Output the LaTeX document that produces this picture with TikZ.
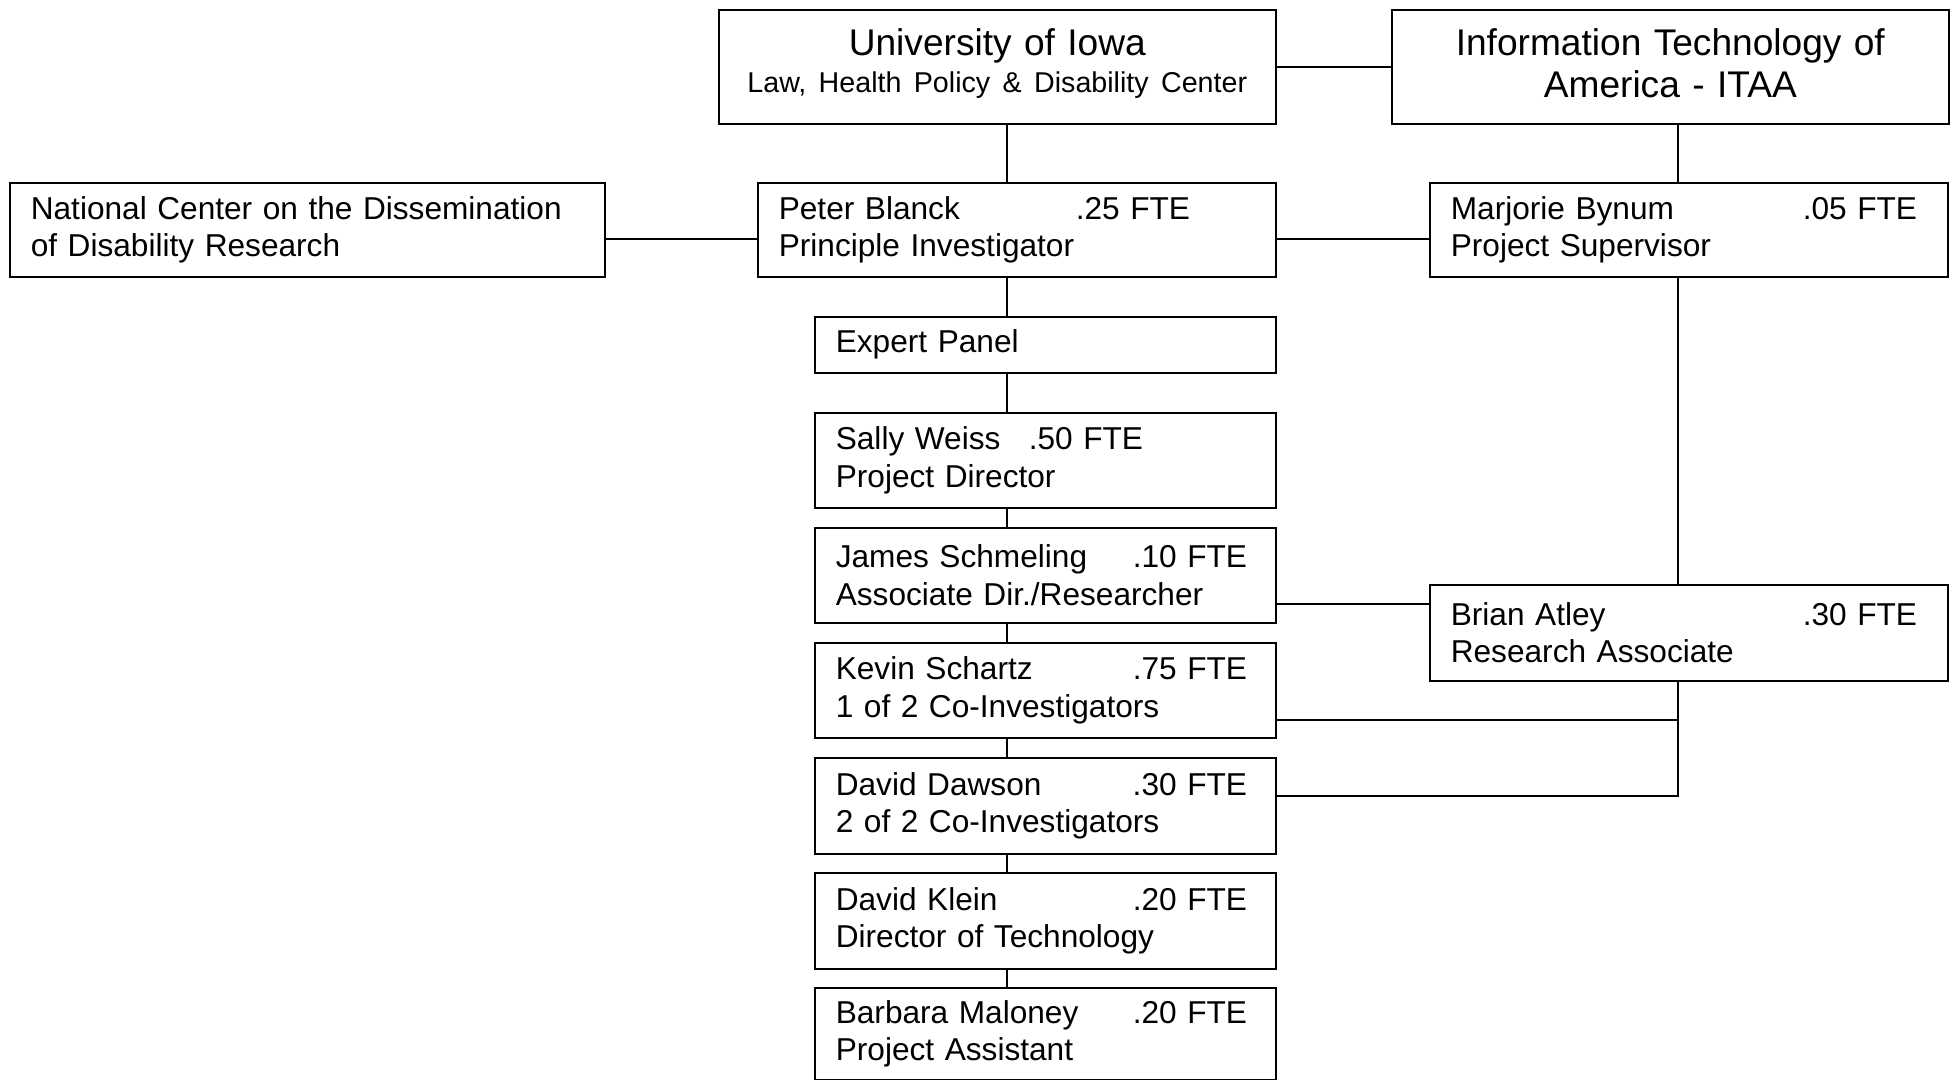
\documentclass[tikz,border=0pt]{standalone}
\usepackage{fontspec}
\setmainfont{Liberation Sans}
\usepackage{tikz}
\usetikzlibrary{positioning, calc}

\newcommand{\bodyfont}{\fontsize{9.0}{10.6}\selectfont}
\newcommand{\headfont}{\fontsize{10.56}{11.9}\selectfont}
\newcommand{\subfont}{\fontsize{8.15}{10.4}\selectfont}
\newcommand{\staffline}[3]{\makebox[#1][l]{#2}#3}

\begin{document}
\begin{tikzpicture}[
      orgb/.style={draw, line width=0.45pt, anchor=north west, inner xsep=0.21cm, inner ysep=0pt, minimum height=1.14cm, text width=5.15cm, align=center, font=\headfont},
      topb/.style={draw, line width=0.45pt, anchor=north west, inner xsep=0.21cm, inner ysep=0pt, minimum height=0.94cm, text width=4.76cm, align=left, font=\bodyfont},
      staffb/.style={draw, line width=0.45pt, anchor=north west, inner xsep=0.21cm, inner ysep=0pt, minimum height=0.95cm, text width=4.19cm, align=left, font=\bodyfont},
      link/.style={line width=0.45pt}]
      \useasboundingbox (0,0) rectangle (19.52,-10.80);
      \coordinate (trunk)  at (10.07,0);
      \coordinate (rtrunk) at (16.78,0);
      \node[orgb] (uiowa) at (7.18,-0.09)  {University of Iowa\\[-1.4pt]{\subfont Law, Health Policy \& Disability Center\rule[-0.12cm]{0pt}{0pt}}};
      \node[orgb] (itaa)  at (13.91,-0.09) {Information Technology of\\America - ITAA\rule[-0.08cm]{0pt}{0pt}};
      \node[topb, text width=5.53cm] (ncddr) at (0.09,-1.82) {National Center on the Dissemination\\of Disability Research};
      \node[topb] (peter) at (7.57,-1.82)  {\staffline{2.97cm}{Peter Blanck}{.25 FTE}\\Principle Investigator};
      \node[topb] (marj)  at (14.29,-1.82) {\staffline{3.52cm}{Marjorie Bynum}{.05 FTE}\\Project Supervisor};
      \node[staffb, minimum height=0.56cm] (expert) at (8.14,-3.16) {Expert Panel};
      \node[staffb] (sally)   at (8.14,-4.12) {\staffline{1.93cm}{Sally Weiss}{.50 FTE}\\Project Director};
      \node[staffb] (james)   at (8.14,-5.27) {\staffline{2.97cm}{James Schmeling}{.10 FTE}\\Associate Dir./Researcher};
      \node[staffb] (kevin)   at (8.14,-6.42) {\staffline{2.97cm}{Kevin Schartz}{.75 FTE}\\1 of 2 Co-Investigators};
      \node[staffb, minimum height=0.96cm] (dawson)  at (8.14,-7.57) {\staffline{2.97cm}{David Dawson}{.30 FTE}\\2 of 2 Co-Investigators};
      \node[staffb, minimum height=0.96cm] (klein)   at (8.14,-8.72) {\staffline{2.97cm}{David Klein}{.20 FTE}\\Director of Technology};
      \node[staffb, minimum height=0.92cm] (barbara) at (8.14,-9.87) {\staffline{2.97cm}{Barbara Maloney}{.20 FTE}\\Project Assistant};
      \node[topb, minimum height=0.96cm] (brian) at (14.29,-5.84) {\staffline{3.52cm}{Brian Atley}{.30 FTE}\\Research Associate};
      \draw[link] (uiowa) -- (itaa);
      \draw[link] (uiowa.south -| trunk) -- (peter.north -| trunk);
      \draw[link] (itaa.south -| rtrunk) -- (marj.north -| rtrunk);
      \draw[link] ([yshift=-0.09cm]ncddr.east) -- ([yshift=-0.09cm]peter.west);
      \draw[link] ([yshift=-0.09cm]peter.east) -- ([yshift=-0.09cm]marj.west);
      \foreach \a/\b in {peter/expert, expert/sally, sally/james, james/kevin, kevin/dawson, dawson/klein, klein/barbara}
        \draw[link] (\a.south -| trunk) -- (\b.north -| trunk);
      \draw[link] (marj.south -| rtrunk) -- (brian.north -| rtrunk);
      \draw[link] ([yshift=-0.285cm]james.east) coordinate (jb) -- (jb -| brian.west);
      \draw[link] ([yshift=-0.295cm]kevin.east) coordinate (kb) -- (kb -| rtrunk);
      \draw[link] (brian.south -| rtrunk) |- ([yshift=0.1cm]dawson.east);
    \end{tikzpicture}
\end{document}
